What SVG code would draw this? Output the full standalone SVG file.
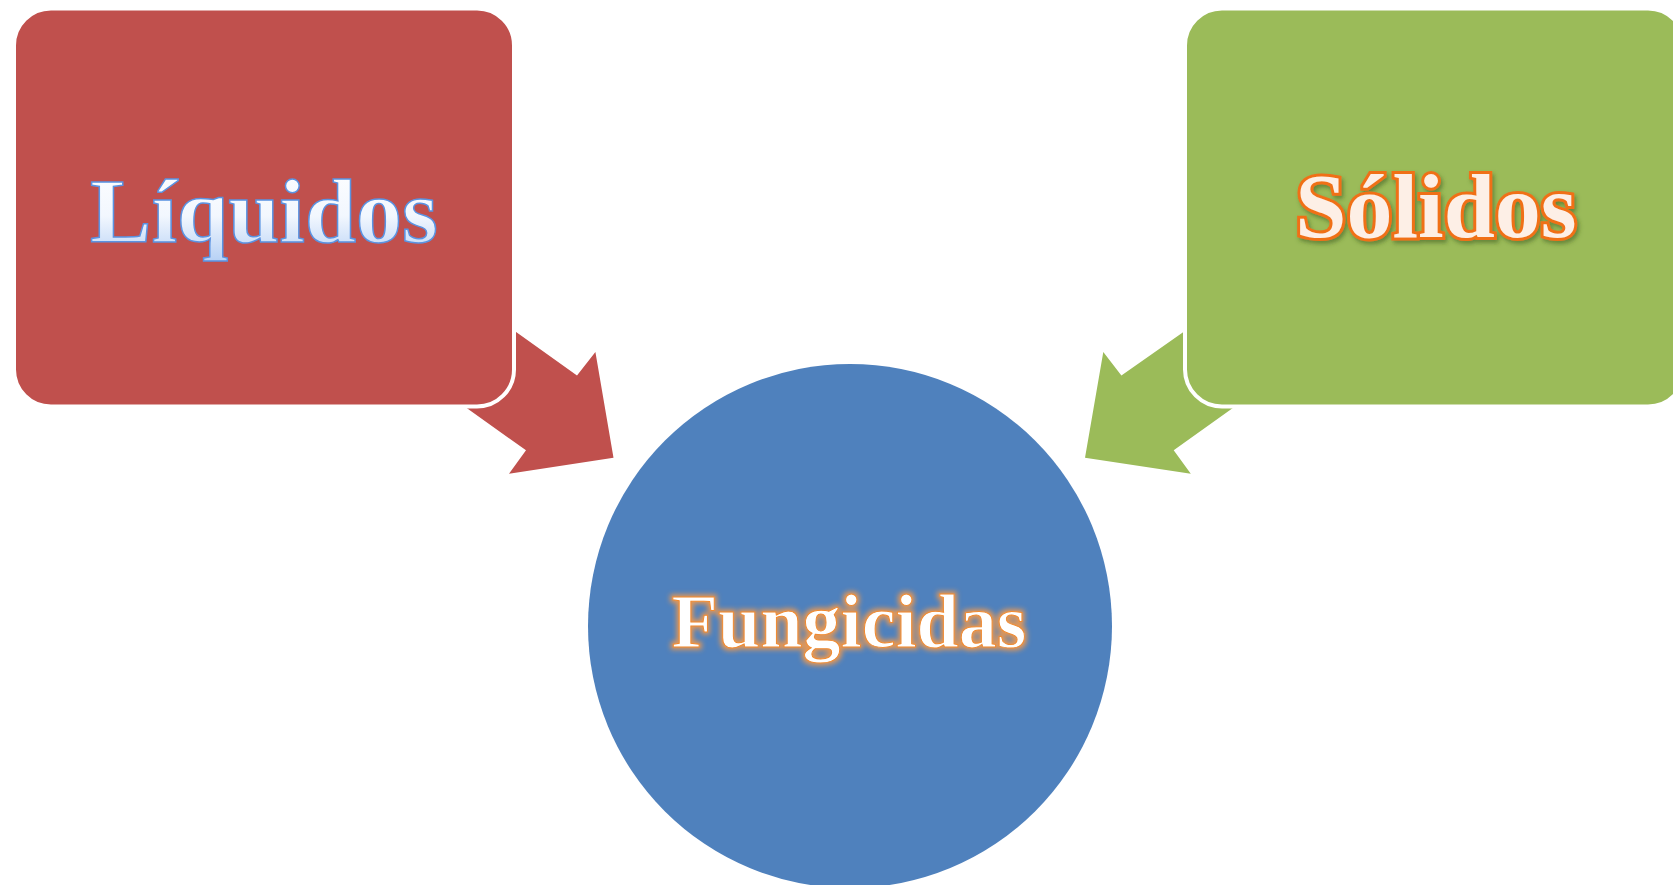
<svg xmlns="http://www.w3.org/2000/svg" width="1673" height="885" viewBox="0 0 1673 885">
  <defs>
    <linearGradient id="liqGrad" x1="0" y1="0" x2="0" y2="1">
      <stop offset="0" stop-color="#FFFFFF"/>
      <stop offset="0.55" stop-color="#F2F7FE"/>
      <stop offset="1" stop-color="#B5D0F5"/>
    </linearGradient>
    <filter id="shadow" x="-10%" y="-20%" width="130%" height="150%">
      <feDropShadow dx="2" dy="3" stdDeviation="2" flood-color="#3A5A1A" flood-opacity="0.55"/>
    </filter>
    <filter id="glow" x="-10%" y="-30%" width="120%" height="160%">
      <feMorphology in="SourceAlpha" operator="dilate" radius="2" result="d"/>
      <feGaussianBlur in="d" stdDeviation="2.5" result="b"/>
      <feFlood flood-color="#F59A4A" flood-opacity="0.9"/>
      <feComposite in2="b" operator="in" result="g"/>
      <feMerge>
        <feMergeNode in="g"/>
        <feMergeNode in="SourceGraphic"/>
      </feMerge>
    </filter>
  </defs>
  <style>
    .box { stroke: #FFFFFF; stroke-width: 4; }
    .lbl { font-family: "Liberation Serif", "Times New Roman", serif; font-weight: bold; text-anchor: middle; }
  </style>

  <g id="connectors">
    <polygon id="arrow-liquidos" fill="#C0504D" points="452.5,286.4 517.5,333 577,375.6 595.4,352.1 613.5,457.7 509,473.7 526,450.3 470.5,410.8 405.5,364.2"/>
    <polygon id="arrow-solidos" fill="#9BBB59" points="1246.7,286.4 1182,333 1121.4,375.6 1103.3,352.1 1085,457.7 1190.8,473.7 1173.7,450.3 1229,410.8 1294,364.2"/>
  </g>

  <g id="node-liquidos">
    <rect class="box" x="14" y="8.5" width="500" height="398" rx="37" ry="37" fill="#C0504D"/>
    <text class="lbl" x="264" y="242" font-size="92" fill="url(#liqGrad)" stroke="#5A93E2" stroke-width="1.5">Líquidos</text>
  </g>

  <g id="node-solidos">
    <rect class="box" x="1185" y="8.5" width="500" height="398" rx="37" ry="37" fill="#9BBB59"/>
    <text class="lbl" x="1436" y="237" font-size="92" fill="#FDEFE6" stroke="#F07018" stroke-width="6" paint-order="stroke" filter="url(#shadow)">Sólidos</text>
  </g>

  <g id="node-fungicidas">
    <circle cx="850" cy="626" r="262" fill="#4F81BD"/>
    <text class="lbl" x="849" y="647" font-size="76" fill="#FFFFFF" stroke="#F08A30" stroke-width="1" filter="url(#glow)">Fungicidas</text>
  </g>
</svg>
